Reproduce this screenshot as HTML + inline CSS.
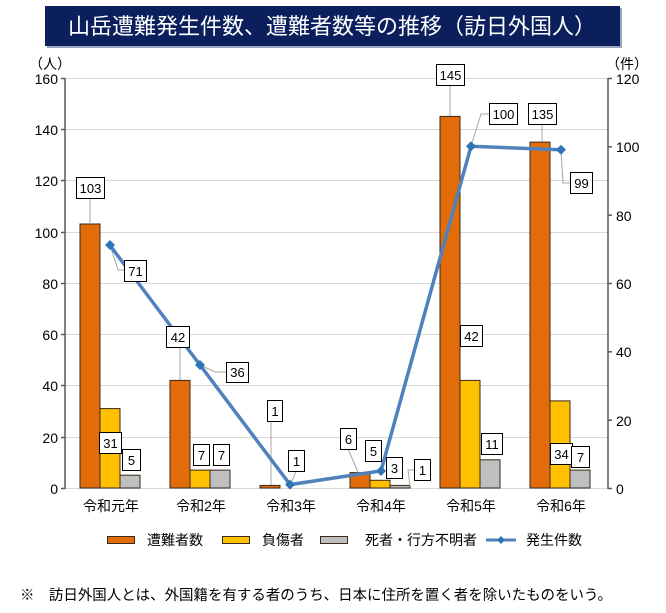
<!DOCTYPE html>
<html><head><meta charset="utf-8"><style>
html,body{margin:0;padding:0;background:#fff;}
svg{display:block;font-family:"Liberation Sans","Noto Sans CJK JP",sans-serif;}
</style></head><body>
<svg width="666" height="613" viewBox="0 0 666 613" xmlns="http://www.w3.org/2000/svg">
<rect x="47" y="8" width="575" height="40" fill="#9aa6c0"/>
<rect x="45" y="6" width="575" height="40" fill="#0b1f5c"/>
<text x="332" y="34" fill="#fff" font-size="22" text-anchor="middle">山岳遭難発生件数、遭難者数等の推移（訪日外国人）</text>
<g stroke="#d9d9d9" stroke-width="1">
<line x1="65" y1="78.5" x2="608" y2="78.5"/><line x1="65" y1="129.5" x2="608" y2="129.5"/>
<line x1="65" y1="180.5" x2="608" y2="180.5"/><line x1="65" y1="232.5" x2="608" y2="232.5"/>
<line x1="65" y1="283.5" x2="608" y2="283.5"/><line x1="65" y1="334.5" x2="608" y2="334.5"/>
<line x1="65" y1="385.5" x2="608" y2="385.5"/><line x1="65" y1="437.5" x2="608" y2="437.5"/>
<line x1="65" y1="488.5" x2="608" y2="488.5"/>
</g>
<g stroke="#595959" stroke-width="1.5">
<line x1="65" y1="78" x2="65" y2="489"/><line x1="608" y1="78" x2="608" y2="489"/>
<line x1="61" y1="78.5" x2="65" y2="78.5"/><line x1="61" y1="129.5" x2="65" y2="129.5"/><line x1="61" y1="180.5" x2="65" y2="180.5"/><line x1="61" y1="232.5" x2="65" y2="232.5"/><line x1="61" y1="283.5" x2="65" y2="283.5"/><line x1="61" y1="334.5" x2="65" y2="334.5"/><line x1="61" y1="385.5" x2="65" y2="385.5"/><line x1="61" y1="437.5" x2="65" y2="437.5"/><line x1="61" y1="488.5" x2="65" y2="488.5"/>
<line x1="608" y1="78.5" x2="612" y2="78.5"/><line x1="608" y1="146.8" x2="612" y2="146.8"/><line x1="608" y1="215.2" x2="612" y2="215.2"/><line x1="608" y1="283.5" x2="612" y2="283.5"/><line x1="608" y1="351.8" x2="612" y2="351.8"/><line x1="608" y1="420.2" x2="612" y2="420.2"/><line x1="608" y1="488.5" x2="612" y2="488.5"/>
</g>
<g font-size="14" fill="#000" text-anchor="end">
<text x="58" y="84">160</text><text x="58" y="135">140</text><text x="58" y="186">120</text><text x="58" y="238">100</text><text x="58" y="289">80</text><text x="58" y="340">60</text><text x="58" y="391">40</text><text x="58" y="443">20</text><text x="58" y="494">0</text>
</g>
<g font-size="14" fill="#000">
<text x="616" y="84">120</text><text x="616" y="152">100</text><text x="616" y="221">80</text><text x="616" y="289">60</text><text x="616" y="357">40</text><text x="616" y="426">20</text><text x="616" y="494">0</text>
<text x="29" y="69">（人）</text><text x="606" y="69">（件）</text>
</g>
<g stroke="#3a2a1a" stroke-width="1">
<rect x="80" y="224" width="20" height="264" fill="#e36c0a"/>
<rect x="170" y="380.4" width="20" height="107.6" fill="#e36c0a"/>
<rect x="260" y="485.4" width="20" height="2.6" fill="#e36c0a"/>
<rect x="350" y="472.6" width="20" height="15.4" fill="#e36c0a"/>
<rect x="440" y="116.4" width="20" height="371.6" fill="#e36c0a"/>
<rect x="530" y="142.1" width="20" height="345.9" fill="#e36c0a"/>
<rect x="100" y="408.6" width="20" height="79.4" fill="#ffc000"/>
<rect x="190" y="470.1" width="20" height="17.9" fill="#ffc000"/>
<rect x="370" y="480.3" width="20" height="7.7" fill="#ffc000"/>
<rect x="460" y="380.4" width="20" height="107.6" fill="#ffc000"/>
<rect x="550" y="400.9" width="20" height="87.1" fill="#ffc000"/>
<rect x="120" y="475.2" width="20" height="12.8" fill="#bfbfbf"/>
<rect x="210" y="470.1" width="20" height="17.9" fill="#bfbfbf"/>
<rect x="390" y="485.4" width="20" height="2.6" fill="#bfbfbf"/>
<rect x="480" y="459.8" width="20" height="28.2" fill="#bfbfbf"/>
<rect x="570" y="470.1" width="20" height="17.9" fill="#bfbfbf"/>
</g>
<g stroke="#a6a6a6" stroke-width="1" fill="none">
<line x1="90" y1="198" x2="90" y2="224"/>
<polyline points="110,245 118,270 124,270"/>
<polyline points="200,365 215,372 226,372"/>
<line x1="180" y1="347" x2="180" y2="380"/>
<line x1="271" y1="421" x2="271" y2="485"/>
<line x1="291" y1="484" x2="296" y2="471"/>
<line x1="348" y1="449" x2="358" y2="472"/>
<polyline points="410,486 408,470 414,470"/>
<line x1="450" y1="85" x2="450" y2="116"/>
<polyline points="471,146 481,114 489,114"/>
<line x1="542" y1="124" x2="542" y2="142"/>
<polyline points="561,150 563,183 570,183"/>
</g>
<polyline points="110,245.4 200,365 290,484.6 381,470.9 471,146.3 561,149.8" fill="none" stroke="#4f81bd" stroke-width="3.5" stroke-linejoin="round"/>
<g fill="#2e75b6">
<path d="M110,240 l5,5 -5,5 -5,-5z"/><path d="M200,360 l5,5 -5,5 -5,-5z"/><path d="M290,479.6 l5,5 -5,5 -5,-5z"/><path d="M381,466 l5,5 -5,5 -5,-5z"/><path d="M471,141.3 l5,5 -5,5 -5,-5z"/><path d="M561,144.8 l5,5 -5,5 -5,-5z"/>
</g>
<g fill="#fff" stroke="#000" stroke-width="1">
<rect x="76.5" y="177.5" width="28" height="21"/>
<rect x="124.5" y="260.5" width="22" height="21"/>
<rect x="99.5" y="432.5" width="22" height="21"/>
<rect x="122.5" y="449.5" width="18" height="21"/>
<rect x="166.5" y="326.5" width="23" height="21"/>
<rect x="226.5" y="362.5" width="22" height="20"/>
<rect x="193.5" y="444.5" width="16" height="21"/>
<rect x="213.5" y="444.5" width="16" height="21"/>
<rect x="267.5" y="400.5" width="15" height="21"/>
<rect x="288.5" y="450.5" width="16" height="21"/>
<rect x="340.5" y="428.5" width="16" height="21"/>
<rect x="365.5" y="440.5" width="16" height="21"/>
<rect x="386.5" y="457.5" width="16" height="21"/>
<rect x="414.5" y="459.5" width="16" height="21"/>
<rect x="436.5" y="64.5" width="28" height="21"/>
<rect x="489.5" y="103.5" width="28" height="21"/>
<rect x="460.5" y="325.5" width="22" height="21"/>
<rect x="481.5" y="433.5" width="21" height="21"/>
<rect x="528.5" y="103.5" width="28" height="21"/>
<rect x="570.5" y="172.5" width="22" height="21"/>
<rect x="550.5" y="443.5" width="22" height="21"/>
<rect x="571.5" y="446.5" width="18" height="21"/>
</g>
<g font-size="13" fill="#000" text-anchor="middle">
<text x="90.5" y="193">103</text><text x="135.5" y="276">71</text><text x="110.5" y="448">31</text><text x="131.5" y="465">5</text>
<text x="178" y="342">42</text><text x="237.5" y="377">36</text><text x="201.5" y="460">7</text><text x="221.5" y="460">7</text>
<text x="275" y="416">1</text><text x="296.5" y="466">1</text>
<text x="348.5" y="444">6</text><text x="373.5" y="456">5</text><text x="394.5" y="473">3</text><text x="422.5" y="475">1</text>
<text x="450.5" y="80">145</text><text x="503.5" y="119">100</text><text x="471.5" y="341">42</text><text x="492" y="449">11</text>
<text x="542.5" y="119">135</text><text x="581.5" y="188">99</text><text x="561.5" y="459">34</text><text x="580.5" y="462">7</text>
</g>
<g font-size="14" fill="#000" text-anchor="middle">
<text x="111" y="511">令和元年</text><text x="201" y="511">令和2年</text><text x="291" y="511">令和3年</text><text x="381" y="511">令和4年</text><text x="471" y="511">令和5年</text><text x="561" y="511">令和6年</text>
</g>
<g stroke="#3a2a1a" stroke-width="1">
<rect x="107.5" y="536.5" width="27" height="7" fill="#e36c0a"/>
<rect x="222.5" y="536.5" width="27" height="7" fill="#ffc000"/>
<rect x="320.5" y="536.5" width="27" height="7" fill="#bfbfbf"/>
</g>
<line x1="486" y1="540" x2="516" y2="540" stroke="#4f81bd" stroke-width="3"/>
<path d="M501,536 l4,4 -4,4 -4,-4z" fill="#2e75b6"/>
<g font-size="14" fill="#000">
<text x="147" y="545">遭難者数</text><text x="262" y="545">負傷者</text><text x="365" y="545">死者・行方不明者</text><text x="526" y="545">発生件数</text>
<text x="20" y="600" font-size="14.5" textLength="592" lengthAdjust="spacingAndGlyphs">※　訪日外国人とは、外国籍を有する者のうち、日本に住所を置く者を除いたものをいう。</text>
</g>
</svg>
</body></html>
